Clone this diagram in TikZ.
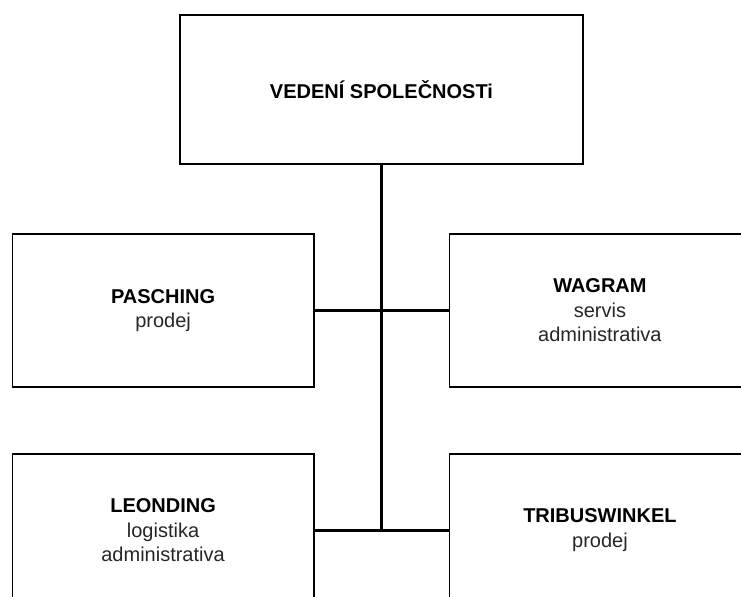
\documentclass[tikz,border=0pt]{standalone}
\usepackage{fontspec}
\setmainfont{Liberation Sans}
\usepackage{tikz}
\usetikzlibrary{positioning}
\tikzset{basic/.style={draw=black,line width=1.4pt,align=center,inner sep=0pt,font=\fontsize{15pt}{18.3pt}\selectfont}}
\tikzset{head/.style={basic,rectangle,minimum width=302.25pt,minimum height=111.75pt}}
\tikzset{branch/.style={basic,rectangle,text=black!85,minimum width=225.75pt,minimum height=114.75pt}}
\tikzset{link/.style={draw,line width=1.9pt}}
\newcommand{\branchtext}[2]{\textcolor{black}{\textbf{#1}}\\#2}

\begin{document}
\begin{tikzpicture}
        \useasboundingbox (-286.125pt,-379.875pt) rectangle (269.625pt,67.125pt);
        \clip (-286.125pt,-379.875pt) rectangle (269.625pt,67.125pt);
        \node[head] (vedeni) at (0,0) {\textbf{VEDENÍ SPOLEČNOSTi}};
        \node[branch,below left=51pt and 50.25pt of vedeni.south] (pasching) {\branchtext{PASCHING}{prodej}};
        \node[branch,below right=51pt and 50.25pt of vedeni.south] (wagram) {\branchtext{WAGRAM}{servis\\administrativa}};
        \node[branch,below=48.75pt of pasching] (leonding) {\branchtext{LEONDING}{logistika\\administrativa}};
        \node[branch,below=48.75pt of wagram] (tribuswinkel) {\branchtext{TRIBUSWINKEL}{prodej}};
            \path[link] (vedeni.south) -- (vedeni.south |- leonding.east);
            \path[link] (pasching) -- (wagram);
            \path[link] (leonding) -- (tribuswinkel);
    \end{tikzpicture}
\end{document}
